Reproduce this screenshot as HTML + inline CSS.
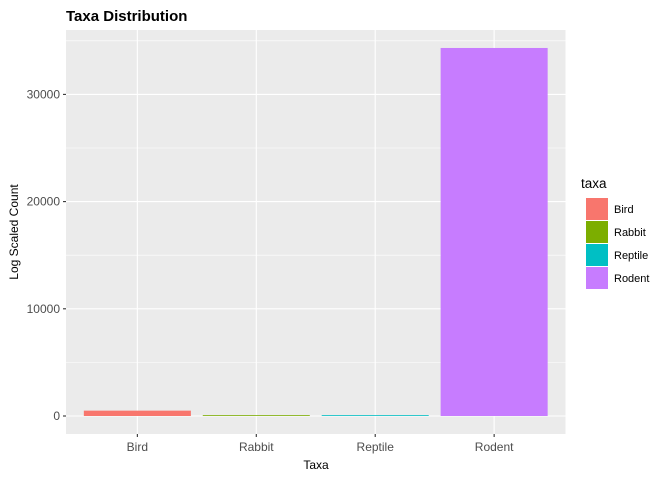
<!DOCTYPE html>
<html><head><meta charset="utf-8"><style>
body{margin:0;background:#fff;font-family:"Liberation Sans",Arial,sans-serif}
</style></head><body>
<svg width="672" height="480" xmlns="http://www.w3.org/2000/svg" id="svg">
<text x="66" y="21" font-size="15" font-weight="bold" fill="#000">Taxa Distribution</text>
<rect x="66" y="30" width="499.5" height="404" fill="#ebebeb"/>
<g id="grid"></g><g id="bars"></g><g id="axes"></g>
<text x="316" y="469" font-size="12" text-anchor="middle" fill="#000">Taxa</text>
<text transform="translate(18,232) rotate(-90)" font-size="12" text-anchor="middle" fill="#000">Log Scaled Count</text>
<g id="legend"></g>
</svg>
<script>
const categories=["Bird","Rabbit","Reptile","Rodent"];
const counts=[500,60,50,34330];
const colors=["#F8766D","#7CAE00","#00BFC4","#C77CFF"];
const yTicks=[0,10000,20000,30000];
const NS="http://www.w3.org/2000/svg";
const L=66,R=565.5,T=30,B=434,ymin=-1679,ymax=36007;
const y=v=>B-(v-ymin)/(ymax-ymin)*(B-T);
const step=(R-L)/(categories.length+0.2);
const x=i=>L+step*(0.6+i);
function mk(t,a,p){const e=document.createElementNS(NS,t);for(const k in a)e.setAttribute(k,a[k]);p.appendChild(e);return e;}
const grid=document.getElementById('grid'),bars=document.getElementById('bars'),axes=document.getElementById('axes'),leg=document.getElementById('legend');
yTicks.forEach((v,i)=>{
 if(i<yTicks.length-1){const m=(v+yTicks[i+1])/2;const g=mk('line',{x1:L,x2:R,y1:y(m),y2:y(m),stroke:'#fff','stroke-width':0.55},grid);
 
 }
 const g2=mk('line',{x1:L,x2:R,y1:y(v),y2:y(v),stroke:'#fff','stroke-width':1.1},grid);
 
 
 const t=mk('line',{x1:L-3,x2:L,y1:y(v),y2:y(v),stroke:'#333','stroke-width':1.1},axes);
 
 
 const tx=mk('text',{x:L-6,y:y(v)+4,'font-size':12,'text-anchor':'end',fill:'#4d4d4d'},axes);tx.textContent=v;
 
 
});
{const m=yTicks[yTicks.length-1]+5000;const g=mk('line',{x1:L,x2:R,y1:y(m),y2:y(m),stroke:'#fff','stroke-width':0.55},grid);
 
 }
categories.forEach((c,i)=>{
 const g=mk('line',{x1:x(i),x2:x(i),y1:T,y2:B,stroke:'#fff','stroke-width':1.1},grid);
 
 
 const w=step*0.9;
 const h=Math.max(y(0)-y(counts[i]),0.8);
 const b=mk('rect',{x:x(i)-w/2,y:y(0)-h,width:w,height:h,fill:colors[i]},bars);
 
 
 const t=mk('line',{x1:x(i),x2:x(i),y1:B,y2:B+3,stroke:'#333','stroke-width':1.1},axes);
 
 
 const tx=mk('text',{x:x(i),y:B+17,'font-size':12,'text-anchor':'middle',fill:'#4d4d4d'},axes);tx.textContent=c;
 
 
 const k=mk('rect',{x:586,y:198+i*23,width:22,height:22,fill:colors[i]},leg);
 
 
 const lt=mk('text',{x:614,y:213+i*23,'font-size':11,fill:'#000'},leg);lt.textContent=c;
 
 
});
const lt=mk('text',{x:581,y:188,'font-size':13.5,fill:'#000'},leg);lt.textContent='taxa';


</script>
</body></html>
